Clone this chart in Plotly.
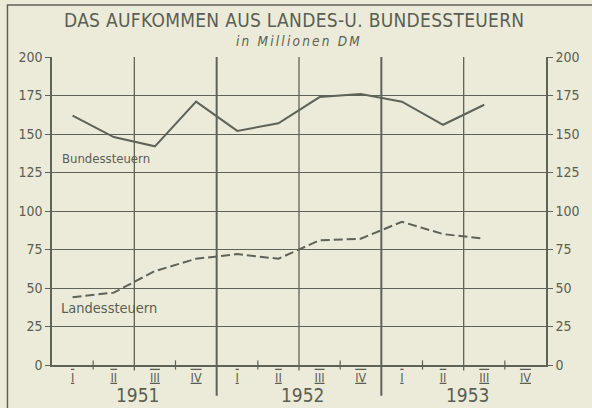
import plotly.graph_objects as go

# Quarterly tax revenue, million DM
years = ["1951", "1952", "1953"]
quarters = ["I", "II", "III", "IV"] * 3
bundessteuern = [162, 148, 142, 171, 152, 157, 174, 176, 171, 156, 169]
landessteuern = [44, 47, 61, 69, 72, 69, 81, 82, 93, 85, 82]
y_ticks = [0, 25, 50, 75, 100, 125, 150, 175, 200]

BG = "#ECEBD9"
INK = "#5A5E53"
LINE = "#5E6257"
FAMILY = "DejaVu Sans Condensed, DejaVu Sans, sans-serif"


def font(size, color=INK):
    return dict(family=FAMILY, size=size, color=color)


def narrow(text, extra=""):
    return '<span style="font-stretch:condensed;%s">%s</span>' % (extra, text)


x_idx = list(range(len(quarters)))
roman = [narrow(q, "text-decoration:overline underline") for q in quarters]
y_text = [narrow(str(v)) for v in y_ticks]

fig = go.Figure()
fig.add_trace(go.Scatter(x=x_idx[:len(bundessteuern)], y=bundessteuern, mode="lines",
                         line=dict(color=LINE, width=2), hoverinfo="skip", showlegend=False))
fig.add_trace(go.Scatter(x=x_idx[:len(landessteuern)], y=landessteuern, mode="lines",
                         line=dict(color=LINE, width=2, dash="9px,4px"),
                         hoverinfo="skip", showlegend=False))
# carrier for the right-hand value axis
fig.add_trace(go.Scatter(x=[0], y=[0], yaxis="y2", mode="markers", opacity=0,
                         hoverinfo="skip", showlegend=False))

shapes = []
# half-year grid lines and year separators
for xv in [1.5, 3.5, 5.5, 7.5, 9.5]:
    sep = xv in (3.5, 7.5)
    shapes.append(dict(type="line", xref="x", yref="paper", x0=xv, x1=xv,
                       y0=-0.1 if sep else -0.018, y1=1,
                       line=dict(color=LINE, width=2 if sep else 1.3), layer="below"))
# small quarter ticks crossing the base line
for xv in [0.5, 2.5, 4.5, 6.5, 8.5, 10.5]:
    shapes.append(dict(type="line", xref="x", yref="paper", x0=xv, x1=xv,
                       y0=-0.015, y1=0.015, line=dict(color=LINE, width=1.2)))
# frame around the chart
shapes.append(dict(type="rect", xref="paper", yref="paper",
                   x0=-45 / 499, x1=1.2, y0=-0.3, y1=1 + 52 / 308,
                   line=dict(color=LINE, width=1.5), layer="below"))

annotations = [
    dict(text=narrow("DAS AUFKOMMEN AUS LANDES-U. BUNDESSTEUERN", "letter-spacing:0.3px"),
         xref="paper", yref="paper", x=0.49, y=1 + 37 / 308, xanchor="center",
         yanchor="middle", showarrow=False, font=font(19)),
    dict(text=narrow("<i>in Millionen DM</i>", "letter-spacing:2.2px"), xref="paper",
         yref="paper", x=0.499, y=1 + 16 / 308, xanchor="center", yanchor="middle",
         showarrow=False, font=font(13.5)),
    dict(text=narrow("Bundessteuern"), xref="x", yref="y", x=-0.3, y=134, xanchor="left",
         yanchor="middle", showarrow=False, font=font(13)),
    dict(text=narrow("Landessteuern"), xref="x", yref="y", x=-0.33, y=37, xanchor="left",
         yanchor="middle", showarrow=False, font=font(14.5)),
]
for i, yr in enumerate(years):
    annotations.append(dict(text=narrow(yr), xref="x", yref="paper", x=4 * i + 1.6,
                            y=-30 / 308, xanchor="center", yanchor="middle",
                            showarrow=False, font=font(19)))

axis_y = dict(range=[0, 200], tickvals=y_ticks, ticktext=y_text, ticks="outside", ticklen=5,
              tickcolor=LINE, tickwidth=1.2, showline=True, linecolor=LINE, linewidth=1.5,
              tickfont=font(14), zeroline=False, fixedrange=True)

fig.update_layout(
    width=592, height=408,
    margin=dict(l=52, r=41, t=57, b=43),
    paper_bgcolor=BG, plot_bgcolor=BG,
    xaxis=dict(range=[-0.5, 11.5], tickvals=x_idx, ticktext=roman, ticks="",
               showgrid=False, zeroline=False, showline=True, linecolor=LINE, linewidth=1.5,
               tickfont=font(12.5), fixedrange=True),
    yaxis=dict(**axis_y, showgrid=True, gridcolor=LINE, gridwidth=1.2),
    yaxis2=dict(**axis_y, overlaying="y", side="right", showgrid=False),
    shapes=shapes,
    annotations=annotations,
)

fig.write_html("out.html")
